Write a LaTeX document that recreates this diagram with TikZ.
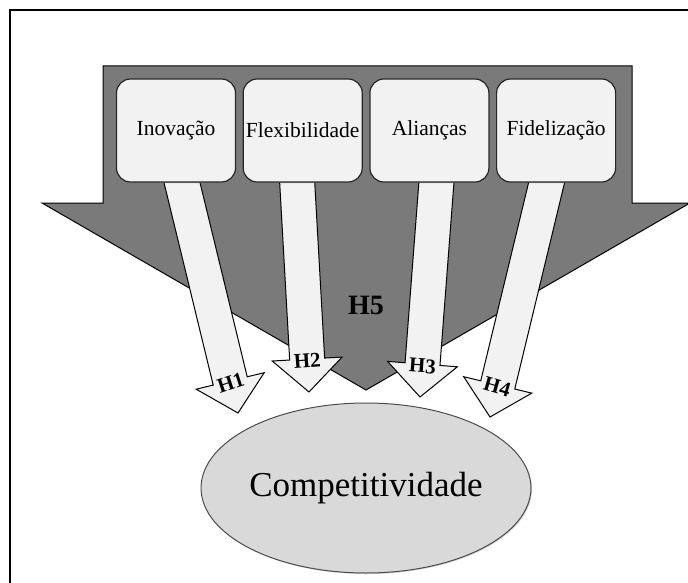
\documentclass[tikz,border=0pt]{standalone}
\usepackage{fontspec}
\setmainfont{Liberation Serif}
\usetikzlibrary{shapes,positioning,calc,shadows}

\definecolor{bigarrow}{HTML}{7A7A7A}
\definecolor{boxfill}{HTML}{F2F2F2}
\definecolor{ovalfill}{HTML}{D9D9D9}

\pgfdeclarelayer{back}
\pgfdeclarelayer{mid}
\pgfsetlayers{back,mid,main}

% block arrow: start, tip, label, label angle
\newcommand{\harrow}[4]{%
  \coordinate (hs) at ($(#2)!1.15!(#1)$);
  \coordinate (hb) at ($(#2)!33pt!(#1)$);
  \draw[hyp] ($(hs)!17.5pt!90:(#2)$) -- ($(hb)!17.5pt!90:(#2)$)
    -- ($(hb)!35pt!90:(#2)$) -- (#2) -- ($(hb)!35pt!-90:(#2)$)
    -- ($(hb)!17.5pt!-90:(#2)$) -- ($(hs)!17.5pt!-90:(#2)$) -- cycle;
  \node[hlabel, rotate=#4] at ($(#2)!31pt!(#1)$) {#3};
}

\begin{document}
\begin{tikzpicture}[
    x=1pt, y=-1pt,
    node distance=6.5pt,
    box/.style={rectangle, rounded corners=14pt, draw=black!85, line width=1.2pt, fill=boxfill,
        minimum width=119pt, minimum height=103pt, inner sep=0pt, font=\fontsize{21.5}{25}\selectfont,
        drop shadow={shadow xshift=1pt, shadow yshift=-1pt, opacity=0.6}},
    hyp/.style={draw=black, line width=1pt, fill=boxfill},
    hlabel/.style={font=\bfseries\fontsize{21}{24}\selectfont, inner sep=0pt},
    oval/.style={ellipse, draw=black!70, line width=1pt, fill=ovalfill, minimum width=272pt,
        minimum height=170pt, inner sep=0pt, font=\fontsize{35}{40}\selectfont,
        drop shadow={shadow xshift=1pt, shadow yshift=-1pt, opacity=0.4}}
]
    \clip (0,0) rectangle (688,583);
    \draw[line width=1.5pt] (10,10) rectangle (700,600);

    % the four factors
    \node[box] (inov) at (176,130.5) {Inovação};
    \node[box, right=of inov] (flex) {Flexibilidade};
    \node[box, right=of flex] (alian) {Alianças};
    \node[box, right=of alian] (fidel) {Fidelização};

    \node[oval] (comp) at (366,488) {Competitividade};

    % big arrow H5
    \begin{pgfonlayer}{back}
    \draw[line width=1pt, fill=bigarrow] (103,66) -- (632,66) -- (632,203) -- (690,203)
        -- (366,390) -- (42,203) -- (103,203) -- cycle;
    \node[font=\bfseries\fontsize{28}{32}\selectfont] (hfive) at (366,305) {H5};
    \end{pgfonlayer}

    \coordinate (s1) at ([xshift=6pt]inov.south);
    \coordinate (s2) at ([xshift=-5.5pt]flex.south);
    \coordinate (s3) at ([xshift=7pt]alian.south);
    \coordinate (s4) at ([xshift=-9.5pt]fidel.south);
    \coordinate (t1) at (238,413);
    \coordinate (t2) at (309,392);
    \coordinate (t3) at (420,397);
    \coordinate (t4) at (490,417);

    \begin{pgfonlayer}{mid}
    \harrow{s1}{t1}{H1}{18}
    \harrow{s2}{t2}{H2}{4}
    \harrow{s3}{t3}{H3}{-4}
    \harrow{s4}{t4}{H4}{-16}
    \end{pgfonlayer}
\end{tikzpicture}
\end{document}
